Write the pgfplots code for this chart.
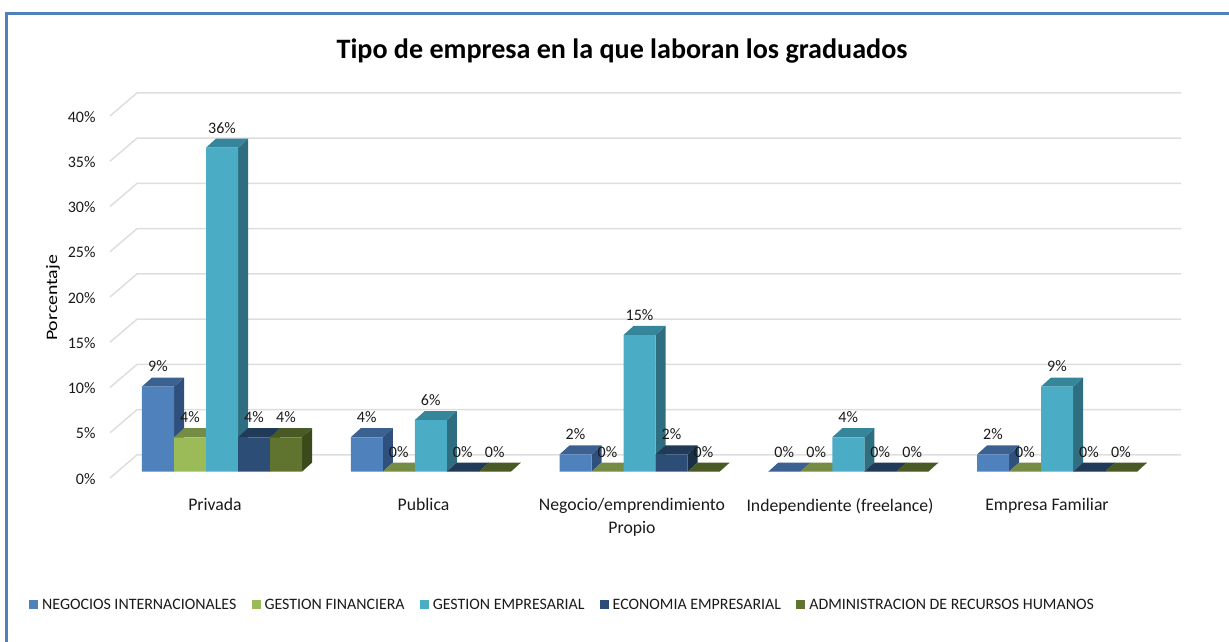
\documentclass[border=0pt]{standalone}
\usepackage{fontspec}
\setmainfont{Carlito}
\usepackage{graphicx}
\usepackage{pgfplots}
\usepackage{pgfplotstable}
\pgfplotsset{compat=1.18}
\definecolor{gridc}{HTML}{DEDEDE}
\definecolor{frame}{HTML}{4F81BD}
\definecolor{txt}{HTML}{1A1A1A}
\definecolor{aF}{HTML}{4F81BD}\definecolor{aT}{HTML}{3A6190}\definecolor{aS}{HTML}{2F507C}
\definecolor{bF}{HTML}{9BBB59}\definecolor{bT}{HTML}{748C43}\definecolor{bS}{HTML}{5F7336}
\definecolor{cF}{HTML}{4BACC6}\definecolor{cT}{HTML}{35859B}\definecolor{cS}{HTML}{2E6E80}
\definecolor{dF}{HTML}{2C4D75}\definecolor{dT}{HTML}{213A58}\definecolor{dS}{HTML}{1A2F48}
\definecolor{eF}{HTML}{60742F}\definecolor{eT}{HTML}{4A5A25}\definecolor{eS}{HTML}{3B4A1B}
\pgfplotstableread{
cat ni gf ge ee ar
0 9.4 3.8 35.8 3.8 3.8
1 3.8 0 5.7 0 0
2 1.9 0 15.1 1.9 0
3 0 0 3.8 0 0
4 1.9 0 9.4 0 0
}\datatable
% side and top faces of one series, depth 10pt right, 9.05pt (=1 unit) up
\newcommand\seriesfaces[4]{%
  \pgfplotsforeachungrouped \r in {0,...,4}{%
    \pgfplotstablegetelem{\r}{#1}\of\datatable
    \pgfmathsetmacro\va{\pgfplotsretval}%
    \pgfmathsetmacro\vb{\va+1}%
    \pgfmathsetmacro\xa{142+208.75*\r+32*#2}%
    \pgfmathsetmacro\xb{\xa+32}%
    \pgfmathsetmacro\xc{\xa+10}%
    \pgfmathsetmacro\xd{\xb+10}%
    \addplot[fill=#4,draw=none,forget plot] coordinates {(\xb,0) (\xd,1) (\xd,\vb) (\xb,\va)};
    \addplot[fill=#3,draw=none,forget plot] coordinates {(\xa,\va) (\xc,\vb) (\xd,\vb) (\xb,\va)};
  }%
}
\newcommand\seriesfront[3]{%
  \addplot[ybar,bar width=32pt,bar shift=0pt,fill=#3,draw=none,
    nodes near coords={\pgfmathprintnumber[fixed,precision=0]{\pgfplotspointmeta}\%},
    nodes near coords align={center},
    every node near coord/.append style={font=\fontsize{16}{16}\selectfont,text=txt,anchor=center,yshift=20pt}]
    table[x expr=158+32*#2+208.75*\thisrow{cat},y=#1]{\datatable};
}
\begin{document}
\begin{tikzpicture}
\begin{axis}[name=ax,x=1pt,y=9.05pt,xmin=110,xmax=1181,ymin=-0.7,ymax=42,
  clip=false,axis line style={draw=none},tick style={draw=none},
  /pgf/number format/assume math mode=true,
  ytick={0,5,...,40},yticklabels={0\%,5\%,10\%,15\%,20\%,25\%,30\%,35\%,40\%},
  yticklabel style={anchor=east,xshift=-11pt,yshift=-7pt,font=\fontsize{16}{16}\selectfont,text=txt},
  xtick={215,423.5,632,840,1047},
  xticklabels={Privada,Publica,{Negocio/emprendimiento\\Propio},Independiente (freelance),Empresa Familiar},
  xticklabel style={align=center,anchor=north,yshift=-17pt,font=\fontsize{17.7}{23}\selectfont,text=txt},
  ylabel={\scalebox{1.24}[1]{Porcentaje}},
  every axis y label/.style={at={(axis cs:53,19.2)},rotate=90,anchor=center,font=\fontsize{16}{16}\selectfont,text=black},
  title={\bfseries Tipo de empresa en la que laboran los graduados},
  title style={at={(axis cs:622,46.6)},anchor=center,yshift=-7pt,font=\fontsize{28.1}{28}\selectfont,text=black},
  legend columns=-1,
  legend style={at={(axis cs:29,-14.7)},anchor=west,draw=none,fill=none,inner sep=0pt,
    font=\fontsize{15.9}{16}\selectfont,text=txt,
    /tikz/every even column/.style={column sep=13.2pt},
    /tikz/every odd column/.style={column sep=2pt}},
  legend image code/.code={\fill[#1,draw=none] (0pt,-4.5pt) rectangle (9pt,4.5pt);},
]
% frame
\addplot[draw=frame,line width=3pt,forget plot] coordinates {(6.5,-18.8) (6.5,50.6) (1229,50.6)};
% gridlines
\pgfplotsforeachungrouped \t in {0,5,...,40}{%
  \pgfmathsetmacro\ya{\t-0.7}\pgfmathsetmacro\yb{\t+1.85}%
  \addplot[draw=gridc,line width=1.5pt,forget plot] coordinates {(110,\ya) (137,\yb) (1181,\yb)};
}
\seriesfaces{ni}{0}{aT}{aS}
\seriesfront{ni}{0}{aF}
\addlegendentry{NEGOCIOS INTERNACIONALES}
\seriesfaces{gf}{1}{bT}{bS}
\seriesfront{gf}{1}{bF}
\addlegendentry{GESTION FINANCIERA}
\seriesfaces{ge}{2}{cT}{cS}
\seriesfront{ge}{2}{cF}
\addlegendentry{GESTION EMPRESARIAL}
\seriesfaces{ee}{3}{dT}{dS}
\seriesfront{ee}{3}{dF}
\addlegendentry{ECONOMIA EMPRESARIAL}
\seriesfaces{ar}{4}{eT}{eS}
\seriesfront{ar}{4}{eF}
\addlegendentry{ADMINISTRACION DE RECURSOS HUMANOS}
\end{axis}
\pgfresetboundingbox
\path[use as bounding box] (ax.south west) ++(-110pt,-163pt) rectangle ++(1229pt,641pt);
\end{tikzpicture}
\end{document}
